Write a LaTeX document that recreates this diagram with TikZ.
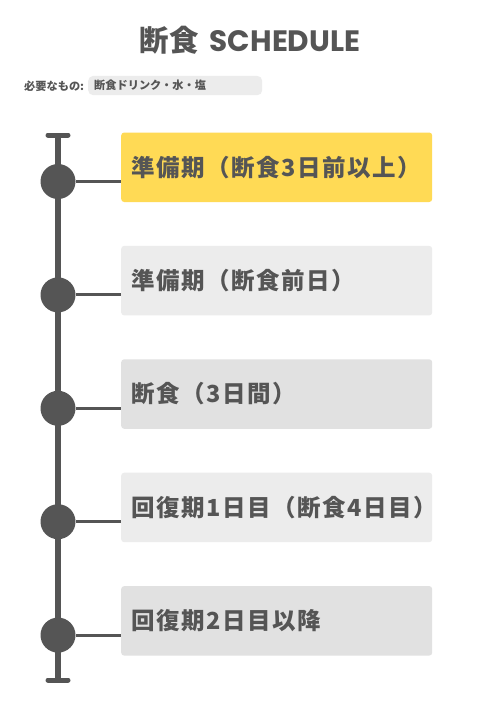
\documentclass[tikz,border=0pt]{standalone}
\usepackage{fontspec}
\newfontfamily\jp{Noto Sans CJK JP}
\newfontfamily\jpwide{Noto Sans CJK JP}[LetterSpace=6.5]
\newfontfamily\pop{Poppins}
\definecolor{ink}{HTML}{555555}
\definecolor{sun}{HTML}{FFDA55}
\definecolor{paleA}{HTML}{ECECEC}
\definecolor{paleB}{HTML}{E1E1E1}
\begin{document}
\begin{tikzpicture}[x=1pt,y=-1pt,
  phase/.style={rounded corners=3pt, anchor=north west, text width=291pt, inner xsep=10pt, inner ysep=0pt,
    minimum height=69.5pt, align=left, text=ink, font=\jpwide\bfseries\fontsize{23.5}{26}\selectfont},
  dot/.style={circle, fill=ink, minimum size=35pt, inner sep=0pt},
  link/.style={draw=ink, line width=3pt},
  spine/.style={draw=ink, line width=6pt},
  endbar/.style={draw=ink, line width=5pt, line cap=round},
  small/.style={text=ink, font=\jp\bfseries\fontsize{11.2}{12}\selectfont}]
\fill[white] (0,0) rectangle (500,707);
% title
\node[text=ink, font=\bfseries\fontsize{29.5}{31}\selectfont] (title) at (250,40) {{\jp 断食} {\pop SCHEDULE}};
\node[small, anchor=west, inner sep=0pt] (need) at (24,86) {必要なもの:};
\node[small, fill=paleA, rounded corners=5pt, anchor=north west, minimum width=174pt, minimum height=19.3pt,
  text width=162pt, inner xsep=6pt, inner ysep=0pt, align=left] (items) at (88,75.7) {断食ドリンク・水・塩};
% spine
\coordinate (top) at (58,135);
\coordinate (bot) at (58,680);
\coordinate (topL) at (48,135);
\coordinate (topR) at (68,135);
\coordinate (botL) at (48,680);
\coordinate (botR) at (68,680);
\draw[spine] (top) -- (bot);
\draw[endbar] (topL) -- (topR);
\draw[endbar] (botL) -- (botR);
% phases
\node[phase, fill=sun]   (b1) at (121,132.3) {準備期（断食3日前以上）};
\node[phase, fill=paleA] (b2) at (121,245.7) {準備期（断食前日）};
\node[phase, fill=paleB] (b3) at (121,359.1) {断食（3日間）};
\node[phase, fill=paleA] (b4) at (121,472.5) {回復期1日目（断食4日目）};
\node[phase, fill=paleB] (b5) at (121,585.9) {回復期2日目以降};
\foreach \i/\y in {1/181.5,2/294.9,3/408.3,4/521.7,5/635.1}{
  \node[dot] (d\i) at (58,\y) {};
  \draw[link] (d\i.east) -- (b\i.west |- d\i);
}
\end{tikzpicture}
\end{document}
